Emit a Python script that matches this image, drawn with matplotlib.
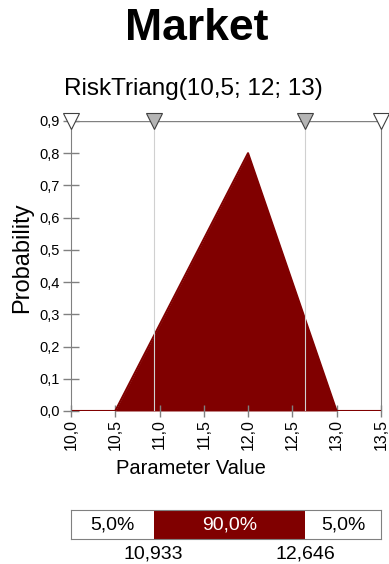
import matplotlib
matplotlib.use("Agg")
import matplotlib.pyplot as plt

plt.rcParams['font.family'] = ['Liberation Sans', 'DejaVu Sans']

# triangular distribution RiskTriang(10,5; 12; 13)
dist_x = [10.0, 10.5, 12.0, 13.0, 13.5]
dist_y = [0.0, 0.0, 0.8, 0.0, 0.0]

x_ticks = [10.0, 10.5, 11.0, 11.5, 12.0, 12.5, 13.0, 13.5]
x_labels = ["10,0", "10,5", "11,0", "11,5", "12,0", "12,5", "13,0", "13,5"]
y_ticks = [0.0, 0.1, 0.2, 0.3, 0.4, 0.5, 0.6, 0.7, 0.8, 0.9]
y_labels = ["0,0", "0,1", "0,2", "0,3", "0,4", "0,5", "0,6", "0,7", "0,8", "0,9"]

# delimiters (5% / 95%)
left_cut = 10.933
right_cut = 12.646
cut_labels = ["10,933", "12,646"]
pct_labels = ["5,0%", "90,0%", "5,0%"]

red = "#800000"
gray = "#808080"

fig = plt.figure(figsize=(3.89, 5.64), dpi=100)

fig.text(0.505, 0.950, "Market", ha="center", va="center", fontsize=32, fontweight="bold")
fig.text(0.497, 0.843, "RiskTriang(10,5; 12; 13)", ha="center", va="center", fontsize=17.5)

ax = fig.add_axes([0.1825, 0.2713, 0.7965, 0.5142])
ax.fill_between(dist_x, dist_y, color=red, lw=0)
ax.plot(dist_x, dist_y, color=red, lw=1.5)
ax.set_xlim(10.0, 13.5)
ax.set_ylim(0, 0.9)

# delimiter lines and markers
ax.plot([left_cut, left_cut], [0, 0.9], color="#d0d0d0", lw=0.8)
ax.plot([right_cut, right_cut], [0, 0.9], color="#d0d0d0", lw=0.8)
ax.plot([10.0, 13.5], [0.9, 0.9], color=gray, lw=1)
ax.plot([left_cut, right_cut], [0.9, 0.9], ls="none", marker="v", ms=11,
        mfc="#b4b4b4", mec="#404040", mew=0.8, clip_on=False, zorder=5)
ax.plot([10.0, 13.5], [0.9, 0.9], ls="none", marker="v", ms=11,
        mfc="white", mec="#404040", mew=0.8, clip_on=False, zorder=5)

for side in ["left", "right"]:
    ax.spines[side].set_color(gray)
ax.spines["top"].set_visible(False)
ax.spines["bottom"].set_visible(False)

ax.set_xticks(x_ticks)
ax.set_xticklabels(x_labels, rotation=90, fontsize=11.5)
ax.set_yticks(y_ticks)
ax.set_yticklabels(y_labels, fontsize=10.5)
ax.tick_params(axis="both", direction="inout", length=12, color=gray, width=1, pad=2)
ax.tick_params(axis="x", length=8)
ax.set_xlabel("Parameter Value", fontsize=14.5)
ax.xaxis.set_label_coords(0.387, -0.165)
ax.set_ylabel("Probability", fontsize=17)
ax.yaxis.set_label_coords(-0.123, 0.528)

# percentage bar
bx = fig.add_axes([0.1825, 0.0443, 0.7965, 0.0514])
bar_left = [10.0, left_cut, right_cut]
bar_width = [left_cut - 10.0, right_cut - left_cut, 13.5 - right_cut]
bar_color = ["white", red, "white"]
bx.barh([0], bar_width, left=bar_left, height=1, color=bar_color, edgecolor="none")
bx.set_xlim(10.0, 13.5)
bx.set_ylim(-0.5, 0.5)
bx.set_xticks([])
bx.set_yticks([])
for s in bx.spines.values():
    s.set_color(gray)
for i in range(3):
    c = bar_left[i] + bar_width[i] / 2
    bx.text(c, 0, pct_labels[i], ha="center", va="center", fontsize=14,
            color="white" if i == 1 else "black")
bx.text(left_cut, -0.72, cut_labels[0], ha="center", va="top", fontsize=14)
bx.text(right_cut, -0.72, cut_labels[1], ha="center", va="top", fontsize=14)

fig.savefig("out.png", dpi=100)
